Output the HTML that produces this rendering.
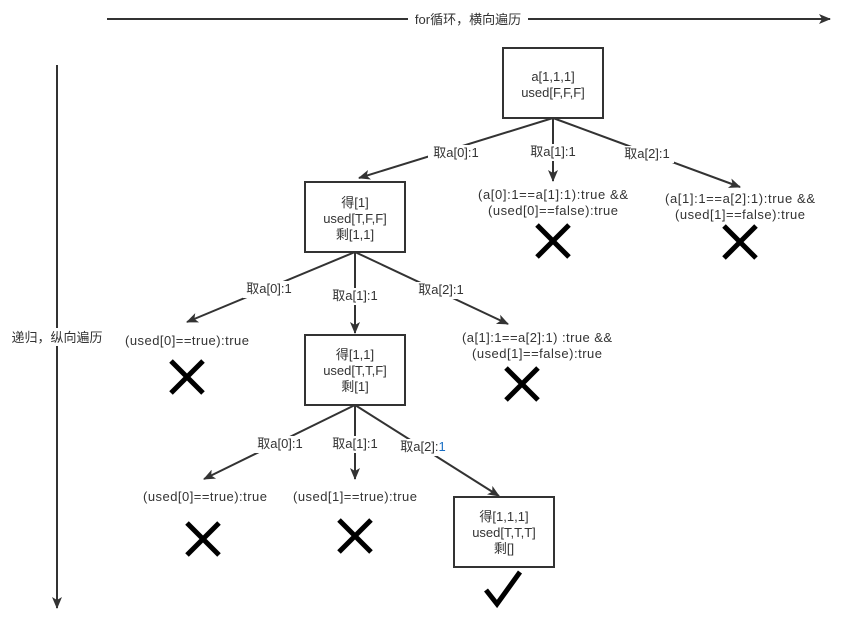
<!DOCTYPE html>
<html><head><meta charset="utf-8"><style>
body{margin:0;background:#fff}
text{font-family:"Liberation Sans","Noto Sans CJK SC",sans-serif;font-size:13px;fill:#333}
</style></head><body>
<svg width="845" height="629" viewBox="0 0 845 629" xmlns="http://www.w3.org/2000/svg">
<defs><marker id="a" markerWidth="14" markerHeight="12" refX="11" refY="6" orient="auto" markerUnits="userSpaceOnUse"><path d="M0,1 L12,6 L0,11 L3,6 Z" fill="#333"/></marker></defs>
<g stroke="#333" stroke-width="2" fill="none" marker-end="url(#a)">
<line x1="107" y1="19" x2="830" y2="19"/>
<line x1="57" y1="65" x2="57" y2="608"/>
</g>
<rect x="408" y="10" width="120" height="18" fill="#fff"/>
<text x="468" y="24" text-anchor="middle">for循环，横向遍历</text>
<rect x="8" y="328" width="100" height="18" fill="#fff"/>
<text x="57" y="342" text-anchor="middle">递归，纵向遍历</text>
<g stroke="#333" stroke-width="2" fill="#fff">
<rect x="503" y="48" width="100" height="70"/>
<rect x="305" y="182" width="100" height="70"/>
<rect x="305" y="335" width="100" height="70"/>
<rect x="454" y="497" width="100" height="70"/>
</g>
<g stroke="#333" stroke-width="2" fill="none" marker-end="url(#a)">
<line x1="553" y1="118" x2="359" y2="178"/>
<line x1="553" y1="118" x2="553" y2="181"/>
<line x1="553" y1="118" x2="740" y2="187"/>
<line x1="355" y1="252" x2="187" y2="322"/>
<line x1="355" y1="252" x2="355" y2="333"/>
<line x1="355" y1="252" x2="508" y2="324"/>
<line x1="355" y1="405" x2="204" y2="479"/>
<line x1="355" y1="405" x2="355" y2="479"/>
<line x1="355" y1="405" x2="499" y2="496"/>
</g>
<g fill="#fff">
<rect x="428" y="145" width="56" height="17"/><rect x="527" y="144" width="52" height="17"/><rect x="620" y="146" width="54" height="17"/>
<rect x="243" y="281" width="52" height="17"/><rect x="329" y="288" width="52" height="17"/><rect x="414" y="282" width="54" height="17"/>
<rect x="253" y="436" width="54" height="17"/><rect x="329" y="436" width="52" height="17"/><rect x="396" y="439" width="54" height="17"/>
</g>
<g text-anchor="middle">
<text x="553" y="81">a[1,1,1]</text><text x="553" y="97">used[F,F,F]</text>
<text x="355" y="207">得[1]</text><text x="355" y="223">used[T,F,F]</text><text x="355" y="239">剩[1,1]</text>
<text x="355" y="359">得[1,1]</text><text x="355" y="375">used[T,T,F]</text><text x="355" y="391">剩[1]</text>
<text x="504" y="521">得[1,1,1]</text><text x="504" y="537">used[T,T,T]</text><text x="504" y="553">剩[]</text>
<text x="456" y="157">取a[0]:1</text><text x="553" y="156">取a[1]:1</text><text x="647" y="158">取a[2]:1</text>
<text x="269" y="293">取a[0]:1</text><text x="355" y="300">取a[1]:1</text><text x="441" y="294">取a[2]:1</text>
<text x="280" y="448">取a[0]:1</text><text x="355" y="448">取a[1]:1</text><text x="423" y="451">取a[2]:<tspan style="fill:#1a6fc4">1</tspan></text>
<text x="553" y="199" textLength="150">(a[0]:1==a[1]:1):true &amp;&amp;</text><text x="553" y="215" textLength="130">(used[0]==false):true</text>
<text x="740" y="203" textLength="150">(a[1]:1==a[2]:1):true &amp;&amp;</text><text x="740" y="219" textLength="130">(used[1]==false):true</text>
<text x="187" y="345" textLength="124">(used[0]==true):true</text>
<text x="537" y="342" textLength="150">(a[1]:1==a[2]:1) :true &amp;&amp;</text><text x="537" y="358" textLength="130">(used[1]==false):true</text>
<text x="205" y="501" textLength="124">(used[0]==true):true</text>
<text x="355" y="501" textLength="124">(used[1]==true):true</text>
</g>
<g stroke="#000" stroke-width="5" fill="none">
<path d="M537,225 L569,257 M569,225 L537,257"/>
<path d="M724,226 L756,258 M756,226 L724,258"/>
<path d="M171,361 L203,393 M203,361 L171,393"/>
<path d="M506,368 L538,400 M538,368 L506,400"/>
<path d="M187,523 L219,555 M219,523 L187,555"/>
<path d="M339,520 L371,552 M371,520 L339,552"/>
<path d="M486,590 L497,604 L520,572"/>
</g>
</svg>
</body></html>
